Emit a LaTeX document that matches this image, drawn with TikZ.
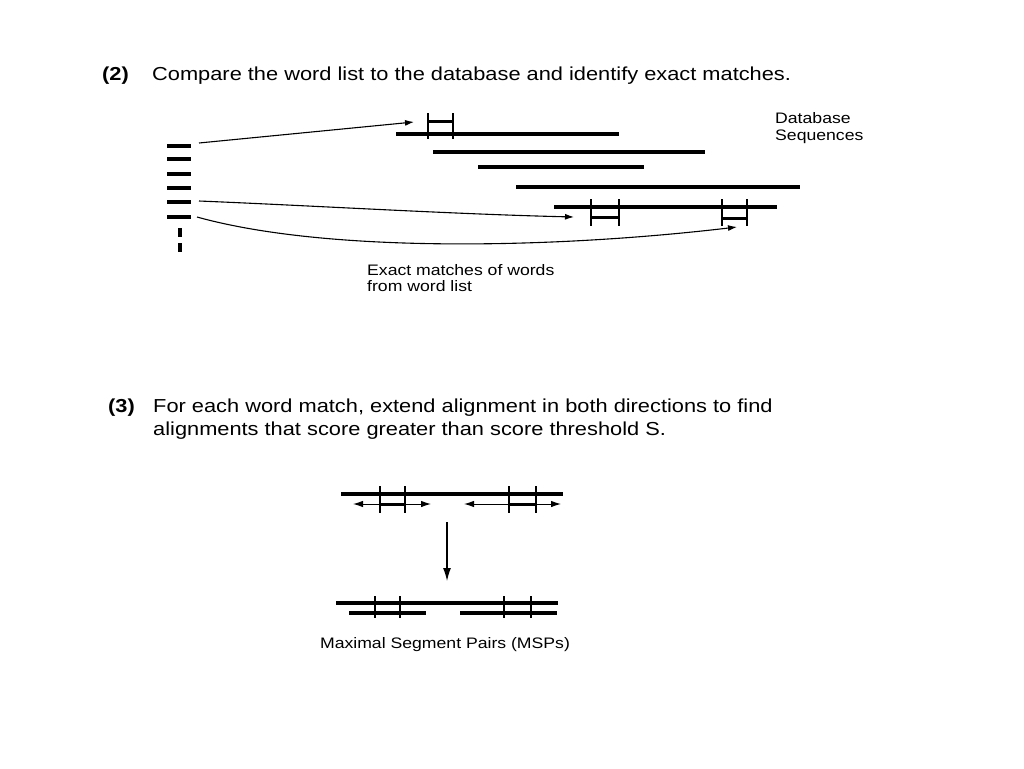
\documentclass[tikz,border=0pt]{standalone}
\usepackage{fontspec}
\setmainfont{Liberation Sans}[FakeStretch=1.16]
\usetikzlibrary{arrows.meta}
\begin{document}
\begin{tikzpicture}[x=1pt,y=-1pt,
  bar/.style={line width=4pt},
  mbar/.style={line width=3pt},
  tickln/.style={line width=1.3pt},
  conn/.style={line width=1.1pt,-{Latex[length=9pt,width=6pt]}},
  title/.style={anchor=base west,inner sep=0pt,font=\fontsize{18.8}{23}\selectfont},
  lab/.style={anchor=base west,inner sep=0pt,font=\fontsize{15.2}{15.5}\selectfont},
]
\useasboundingbox[fill=white] (0,0) rectangle (1024,768);

% ---------- section (2) ----------
\node[title] (n2) at (102,80) {\bfseries (2)};
\node[title] (t2) at (152,80) {Compare the word list to the database and identify exact matches.};

% word list
\foreach \i/\y in {1/146,2/159,3/174,4/188,5/202,6/217}{
  \coordinate (w\i a) at (167,\y);
  \coordinate (w\i b) at (191,\y);
  \draw[bar] (w\i a) -- (w\i b);
}
\coordinate (d1a) at (180,228); \coordinate (d1b) at (180,252);
\draw[line width=4pt,dash pattern=on 9pt off 6pt] (d1a) -- (d1b);

% database sequences
\coordinate (s1a) at (396,134); \coordinate (s1b) at (619,134);
\coordinate (s2a) at (433,152); \coordinate (s2b) at (705,152);
\coordinate (s3a) at (478,167); \coordinate (s3b) at (644,167);
\coordinate (s4a) at (516,187); \coordinate (s4b) at (800,187);
\coordinate (s5a) at (554,207); \coordinate (s5b) at (777,207);
\foreach \s in {1,...,5}{\draw[bar] (s\s a) -- (s\s b);}

% matches
\foreach \xa/\xb/\yt/\yb/\ym in {428/453/113/139/121, 591/619/199/226/217, 722/747/199/226/218}{
  \draw[tickln] (\xa,\yt) -- (\xa,\yb);
  \draw[tickln] (\xb,\yt) -- (\xb,\yb);
  \draw[mbar] (\xa,\ym) -- (\xb,\ym);
}

% connectors
\coordinate (c1s) at (199,143); \coordinate (c1e) at (414,122);
\coordinate (c2s) at (199,201); \coordinate (c2e) at (574,217);
\coordinate (c3s) at (197,217); \coordinate (c3e) at (737,227);
\draw[conn] (c1s) -- (c1e);
\draw[conn] (c2s) .. controls (320,206) and (450,214) .. (c2e);
\draw[conn] (c3s) .. controls (330,254) and (560,248) .. (c3e);

\node[lab] (db1) at (775,123) {Database};
\node[lab] (db2) at (775,140) {Sequences};
\node[lab] (em1) at (367,275) {Exact matches of words};
\node[lab] (em2) at (367,291) {from word list};

% ---------- section (3) ----------
\node[title] (n3) at (108,412) {\bfseries (3)};
\node[title] (t3a) at (153,412) {For each word match, extend alignment in both directions to find};
\node[title] (t3b) at (153,435) {alignments that score greater than score threshold S.};

\coordinate (ta) at (341,494); \coordinate (tb) at (563,494);
\draw[bar] (ta) -- (tb);
\foreach \x in {380,405,509,536}{\draw[tickln] (\x,486) -- (\x,513);}
\draw[mbar] (380,504) -- (405,504);
\draw[mbar] (509,504) -- (536,504);
\coordinate (e1) at (380,504); \coordinate (e1t) at (353,504);
\coordinate (e2) at (405,504); \coordinate (e2t) at (431,504);
\coordinate (e3) at (509,504); \coordinate (e3t) at (464,504);
\coordinate (e4) at (536,504); \coordinate (e4t) at (561,504);
\foreach \a/\b in {e1/e1t,e2/e2t,e3/e3t,e4/e4t}{\draw[conn,line width=1pt,-{Latex[length=10pt,width=6.5pt]}] (\a) -- (\b);}

\coordinate (da) at (447,522); \coordinate (dbt) at (447,581);
\draw[line width=1.2pt,-{Latex[length=13pt,width=8pt]}] (da) -- (dbt);

\coordinate (ba) at (336,603); \coordinate (bb) at (558,603);
\draw[bar] (ba) -- (bb);
\draw[bar] (349,613) -- (426,613);
\draw[bar] (460,613) -- (557,613);
\foreach \x in {375,400,504,531}{\draw[tickln] (\x,596) -- (\x,618);}

\node[anchor=base,inner sep=0pt,font=\fontsize{15.2}{15.5}\selectfont] (msp) at (445,648) {Maximal Segment Pairs (MSPs)};
\end{tikzpicture}
\end{document}
